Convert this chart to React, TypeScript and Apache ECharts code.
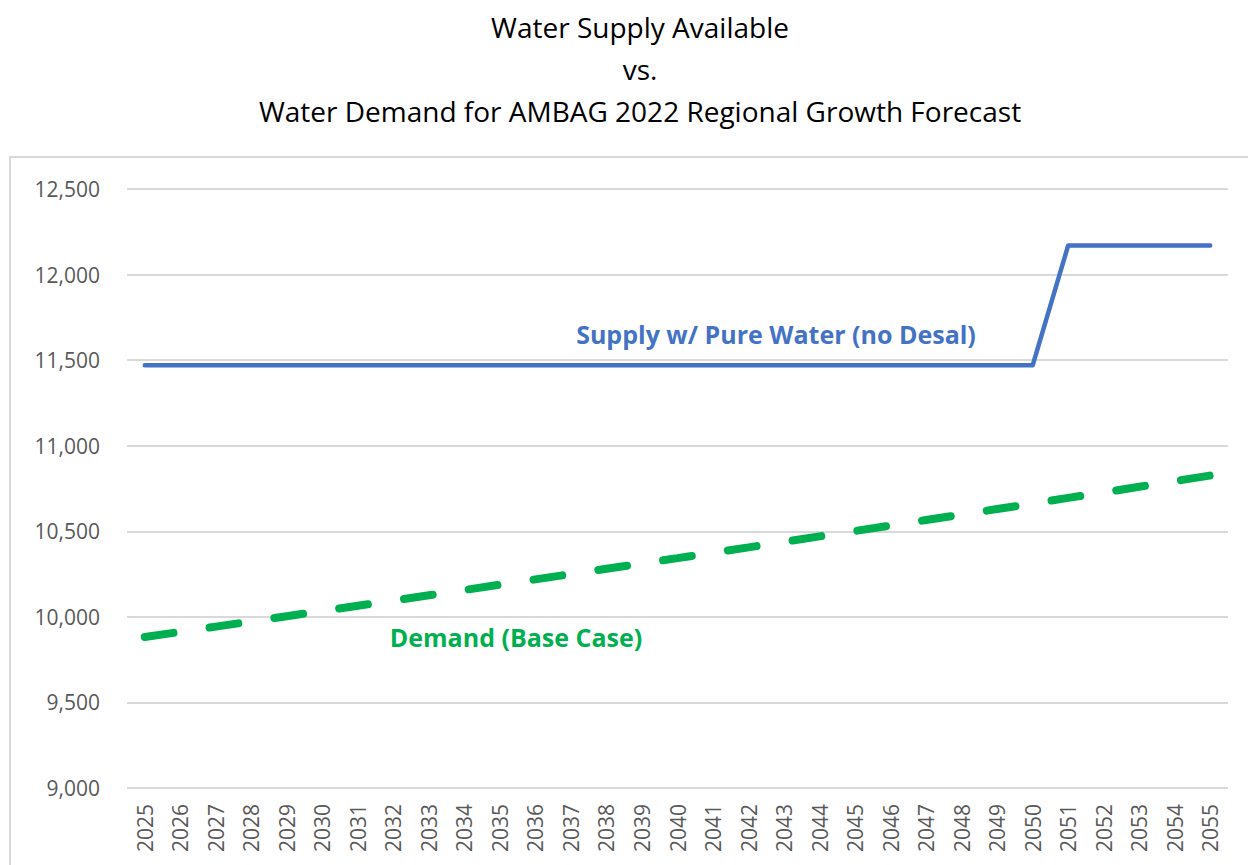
import React, { useEffect, useRef } from "react";
import * as echarts from "echarts";

const years: string[] = [
  "2025","2026","2027","2028","2029","2030","2031","2032","2033","2034","2035",
  "2036","2037","2038","2039","2040","2041","2042","2043","2044","2045",
  "2046","2047","2048","2049","2050","2051","2052","2053","2054","2055",
];

const supply: number[] = [
  11470,11470,11470,11470,11470,11470,11470,11470,11470,11470,11470,
  11470,11470,11470,11470,11470,11470,11470,11470,11470,11470,
  11470,11470,11470,11470,11470,12170,12170,12170,12170,12170,
];

const demand: number[] = [
  9882,9912,9943,9973,10004,10034,10065,10095,10126,10157,10188,
  10219,10250,10281,10312,10343,10375,10406,10438,10470,10502,
  10534,10566,10598,10630,10662,10695,10727,10760,10793,10826,
];

const titleLines: string[] = [
  "Water Supply Available",
  "vs.",
  "Water Demand for AMBAG 2022 Regional Growth Forecast",
];

const FONT = "'Open Sans', 'DejaVu Sans', sans-serif";

export default function App() {
  const ref = useRef<HTMLDivElement>(null);
  useEffect(() => {
    if (!ref.current) return;
    const chart = echarts.init(ref.current, null, { renderer: "svg" });
    chart.setOption({
      animation: false,
      backgroundColor: "#ffffff",
      title: {
        text: titleLines.join("\n"),
        left: 635,
        textAlign: "center",
        top: 1,
        textStyle: {
          fontFamily: FONT,
          fontSize: 28,
          fontWeight: "normal",
          color: "#000000",
          lineHeight: 42,
        },
      },
      grid: { left: 127, right: 20, top: 189, bottom: 77, containLabel: false },
      xAxis: {
        type: "category",
        data: years,
        boundaryGap: true,
        axisLine: { show: false },
        axisTick: { show: false },
        axisLabel: {
          rotate: 90,
          margin: 16,
          interval: 0,
          fontFamily: FONT,
          fontSize: 21,
          color: "#595959",
        },
      },
      yAxis: {
        type: "value",
        min: 9000,
        max: 12500,
        interval: 500,
        axisLine: { show: false },
        axisTick: { show: false },
        splitLine: { lineStyle: { color: "#d9d9d9", width: 2 } },
        axisLabel: {
          margin: 27,
          fontFamily: FONT,
          fontSize: 21,
          color: "#595959",
          formatter: (v: number) => v.toLocaleString("en-US"),
        },
      },
      series: [
        {
          name: "Supply w/ Pure Water (no Desal)",
          type: "line",
          data: supply,
          symbol: "none",
          lineStyle: { color: "#4472C4", width: 4.5, cap: "round", join: "round" },
        },
        {
          name: "Demand (Base Case)",
          type: "line",
          data: demand,
          symbol: "none",
          lineStyle: {
            color: "#00B050",
            width: 8,
            type: [29, 36.5],
            cap: "round",
          },
        },
      ],
      graphic: [
        {
          type: "rect",
          shape: { x: 10, y: 157, width: 1300, height: 800 },
          style: { fill: "none", stroke: "#d9d9d9", lineWidth: 2 },
          silent: true,
          z: -1,
        },
        {
          type: "text",
          x: 776,
          y: 334,
          style: {
            text: "Supply w/ Pure Water (no Desal)",
            fill: "#4472C4",
            font: `bold 25px ${FONT}`,
            align: "center",
            verticalAlign: "middle",
          },
        },
        {
          type: "text",
          x: 516,
          y: 637,
          style: {
            text: "Demand (Base Case)",
            fill: "#00B050",
            font: `bold 25px ${FONT}`,
            align: "center",
            verticalAlign: "middle",
          },
        },
      ],
    });
    return () => chart.dispose();
  }, []);
  return (
    <div
      ref={ref}
      style={{ position: "absolute", left: 0, top: 0, width: 1248, height: 865 }}
    />
  );
}
